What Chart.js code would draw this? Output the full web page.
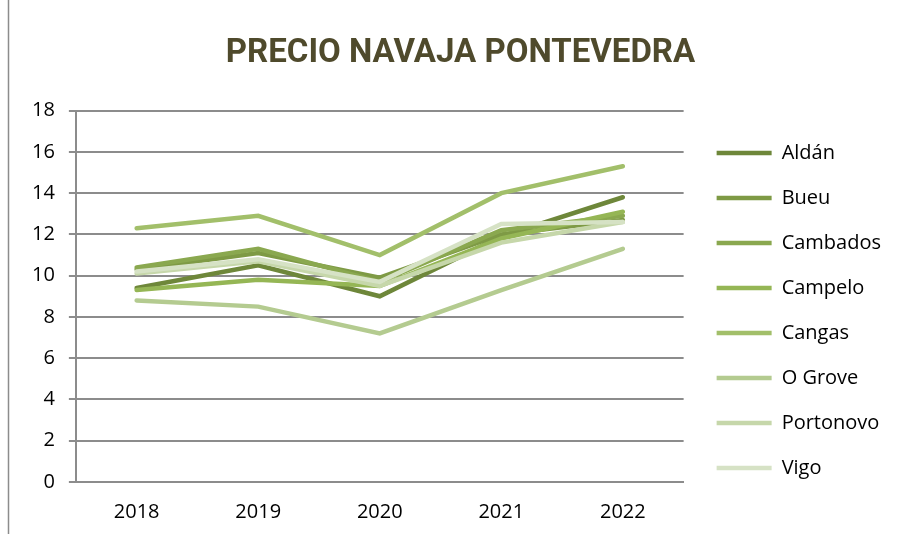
<!DOCTYPE html>
<html>
<head>
<meta charset="utf-8">
<script src="https://cdn.jsdelivr.net/npm/chart.js@4/dist/chart.umd.min.js"></script>
<style>
  html, body { margin: 0; padding: 0; background: #fff; }
  #wrap { width: 899px; height: 534px; position: relative; }
</style>
</head>
<body>
<div id="wrap"><canvas id="myChart" width="899" height="534"></canvas></div>
<script>
// Datos: precio medio de la navaja por lonja
const anios = ['2018', '2019', '2020', '2021', '2022'];
const lonjas = ['Aldán', 'Bueu', 'Cambados', 'Campelo', 'Cangas', 'O Grove', 'Portonovo', 'Vigo'];

const aldan     = [9.4, 10.5, 9.0, 11.9, 13.8];
const bueu      = [10.3, 11.1, 9.9, 12.0, 12.7];
const cambados  = [10.4, 11.3, 9.7, 12.2, 12.9];
const campelo   = [9.3, 9.8, 9.5, 11.8, 13.1];
const cangas    = [12.3, 12.9, 11.0, 14.0, 15.3];
const oGrove    = [8.8, 8.5, 7.2, 9.3, 11.3];
const portonovo = [10.1, 10.7, 9.5, 11.6, 12.6];
const vigo      = [10.2, 10.8, 9.7, 12.5, 12.6];

const series = [aldan, bueu, cambados, campelo, cangas, oGrove, portonovo, vigo];
const colores = ['#6E873A', '#7E9A45', '#8AA84F', '#95B655', '#A2BF6A', '#B4CB90', '#C6D7AA', '#D6E2C5'];

const datasets = lonjas.map((nombre, i) => ({
    label: nombre,
    data: series[i],
    borderColor: colores[i],
    backgroundColor: colores[i],
    borderWidth: 4.5,
    borderCapStyle: 'round',
    borderJoinStyle: 'miter',
    pointRadius: 0,
    pointHoverRadius: 0,
    tension: 0,
    order: lonjas.length - i   // la última serie queda encima
}));

const fuente = "'Open Sans', 'Liberation Sans', sans-serif";

// Marco izquierdo del gráfico
const marco = {
    id: 'marco',
    beforeDraw(chart) {
        const c = chart.ctx;
        c.save();
        c.fillStyle = '#fff';
        c.fillRect(0, 0, chart.width, chart.height);
        c.strokeStyle = '#8c8c8c';
        c.lineWidth = 1.5;
        c.beginPath();
        c.moveTo(8.5, 0);
        c.lineTo(8.5, chart.height);
        c.stroke();
        c.restore();
    }
};

// Recoloca la leyenda (más abajo y separada del área) y centra el título
const recolocar = {
    id: 'recolocar',
    afterLayout(chart) {
        const l = chart.legend;
        if (l) {
            l.top += 118;
            l.left += 8;
            l.right += 8;
        }
        const t = chart.titleBlock;
        if (t) {
            t.left += 10;
            t.right += 10;
        }
    }
};

const config = {
    type: 'line',
    data: { labels: anios, datasets: datasets },
    options: {
        responsive: false,
        animation: false,
        layout: { padding: { left: 18, right: 16, top: 0, bottom: 0 } },
        plugins: {
            title: {
                display: true,
                text: 'PRECIO NAVAJA PONTEVEDRA',
                color: '#4F4A2C',
                font: { family: "Roboto, 'Open Sans', sans-serif", size: 33, weight: 'bold' },
                padding: { top: 34, bottom: 37 }
            },
            legend: {
                position: 'right',
                align: 'start',
                labels: {
                    sort: (a, b) => a.datasetIndex - b.datasetIndex,
                    usePointStyle: true,
                    pointStyle: 'line',
                    pointStyleWidth: 55,
                    boxHeight: 20,
                    padding: 25,
                    color: '#000',
                    font: { family: fuente, size: 20 }
                }
            },
            tooltip: { enabled: false }
        },
        scales: {
            x: {
                offset: true,
                grid: { display: false },
                border: { display: true, color: '#8c8c8c', width: 2 },
                ticks: { color: '#000', padding: 10, font: { family: fuente, size: 20 } }
            },
            y: {
                min: 0,
                max: 18,
                ticks: { stepSize: 2, color: '#000', padding: 14, font: { family: fuente, size: 20 } },
                grid: { color: '#8c8c8c', lineWidth: 2, tickLength: 7 },
                border: { display: true, color: '#8c8c8c', width: 2 }
            }
        }
    },
    plugins: [marco, recolocar]
};

const ctx = document.getElementById('myChart').getContext('2d');
new Chart(ctx, config);
</script>
</body>
</html>
